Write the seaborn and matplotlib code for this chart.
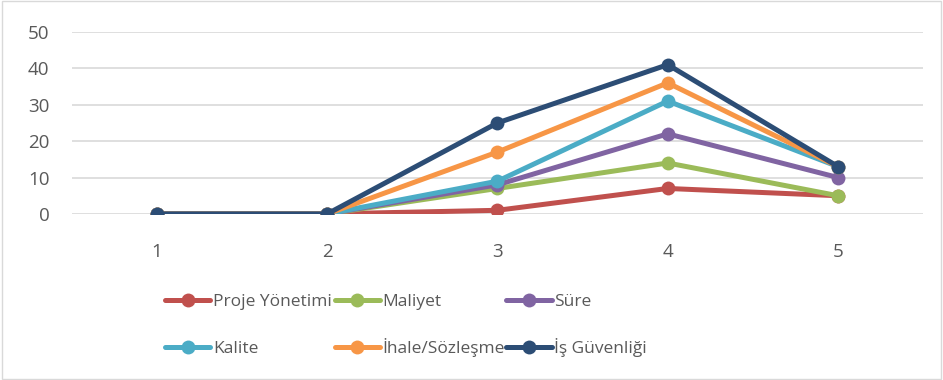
import matplotlib
matplotlib.use("Agg")
import matplotlib.pyplot as plt
import seaborn as sns
import pandas as pd
from matplotlib.lines import Line2D
from matplotlib.patches import Rectangle

categories = [1, 2, 3, 4, 5]
series_names = ["Proje Yönetimi", "Maliyet", "Süre", "Kalite", "İhale/Sözleşme", "İş Güvenliği"]
proje = [0, 0, 1, 7, 5]
maliyet = [0, 0, 7, 14, 5]
sure = [0, 0, 8, 22, 10]
kalite = [0, 0, 9, 31, 13]
ihale = [0, 0, 17, 36, 13]
is_guvenligi = [0, 0, 25, 41, 13]
colors = ["#C0504D", "#9BBB59", "#8064A2", "#4BACC6", "#F79646", "#2C4D75"]

values = [proje, maliyet, sure, kalite, ihale, is_guvenligi]
rows = []
for name, vals in zip(series_names, values):
    for c, v in zip(categories, vals):
        rows.append({"cat": c, "val": v, "series": name})
df = pd.DataFrame(rows)

sns.set_theme(style="white")
plt.rcParams["font.family"] = ["Open Sans", "DejaVu Sans"]

fig = plt.figure(figsize=(9.43, 3.8), dpi=100)
ax = fig.add_axes([0.076, 0.437, 0.903, 0.479])

for name, col in zip(series_names, colors):
    sub = df[df["series"] == name]
    sns.lineplot(data=sub, x="cat", y="val", ax=ax, color=col, linewidth=3.6,
                 marker="o", markersize=10, markeredgewidth=0, label=name,
                 legend=False)

ax.set_xlim(0.5, 5.5)
ax.set_ylim(0, 50)
ax.set_yticks([0, 10, 20, 30, 40, 50])
ax.set_xticks(categories)
ax.set_xticklabels([str(c) for c in categories])
ax.yaxis.grid(True, color="#D9D9D9", linewidth=1.2)
ax.set_axisbelow(True)
for s in ax.spines.values():
    s.set_visible(False)
ax.tick_params(axis="both", length=0, labelsize=13.5, labelcolor="#595959")
ax.tick_params(axis="x", pad=21)
ax.tick_params(axis="y", pad=16)
ax.set_xlabel("")
ax.set_ylabel("")

# Legend: 2 rows x 3 columns, row-major, fixed column positions
col_x = [0.175, 0.355, 0.537]
row_y = [0.184, 0.061]
for i, (name, col) in enumerate(zip(series_names, colors)):
    r, c = divmod(i, 3)
    h = Line2D([0], [0], color=col, linewidth=3.6, marker="o", markersize=10,
               markeredgewidth=0)
    fig.legend([h], [name], loc="lower left", bbox_to_anchor=(col_x[c], row_y[r]),
               frameon=False, fontsize=12.5, labelcolor="#595959",
               handlelength=2.6, handletextpad=0.15, borderpad=0,
               borderaxespad=0)

fig.patches.append(Rectangle((0.002, 0.003), 0.996, 0.994, transform=fig.transFigure,
                             fill=False, edgecolor="#D9D9D9", linewidth=1))

fig.savefig("out.png", dpi=100, facecolor="white")
